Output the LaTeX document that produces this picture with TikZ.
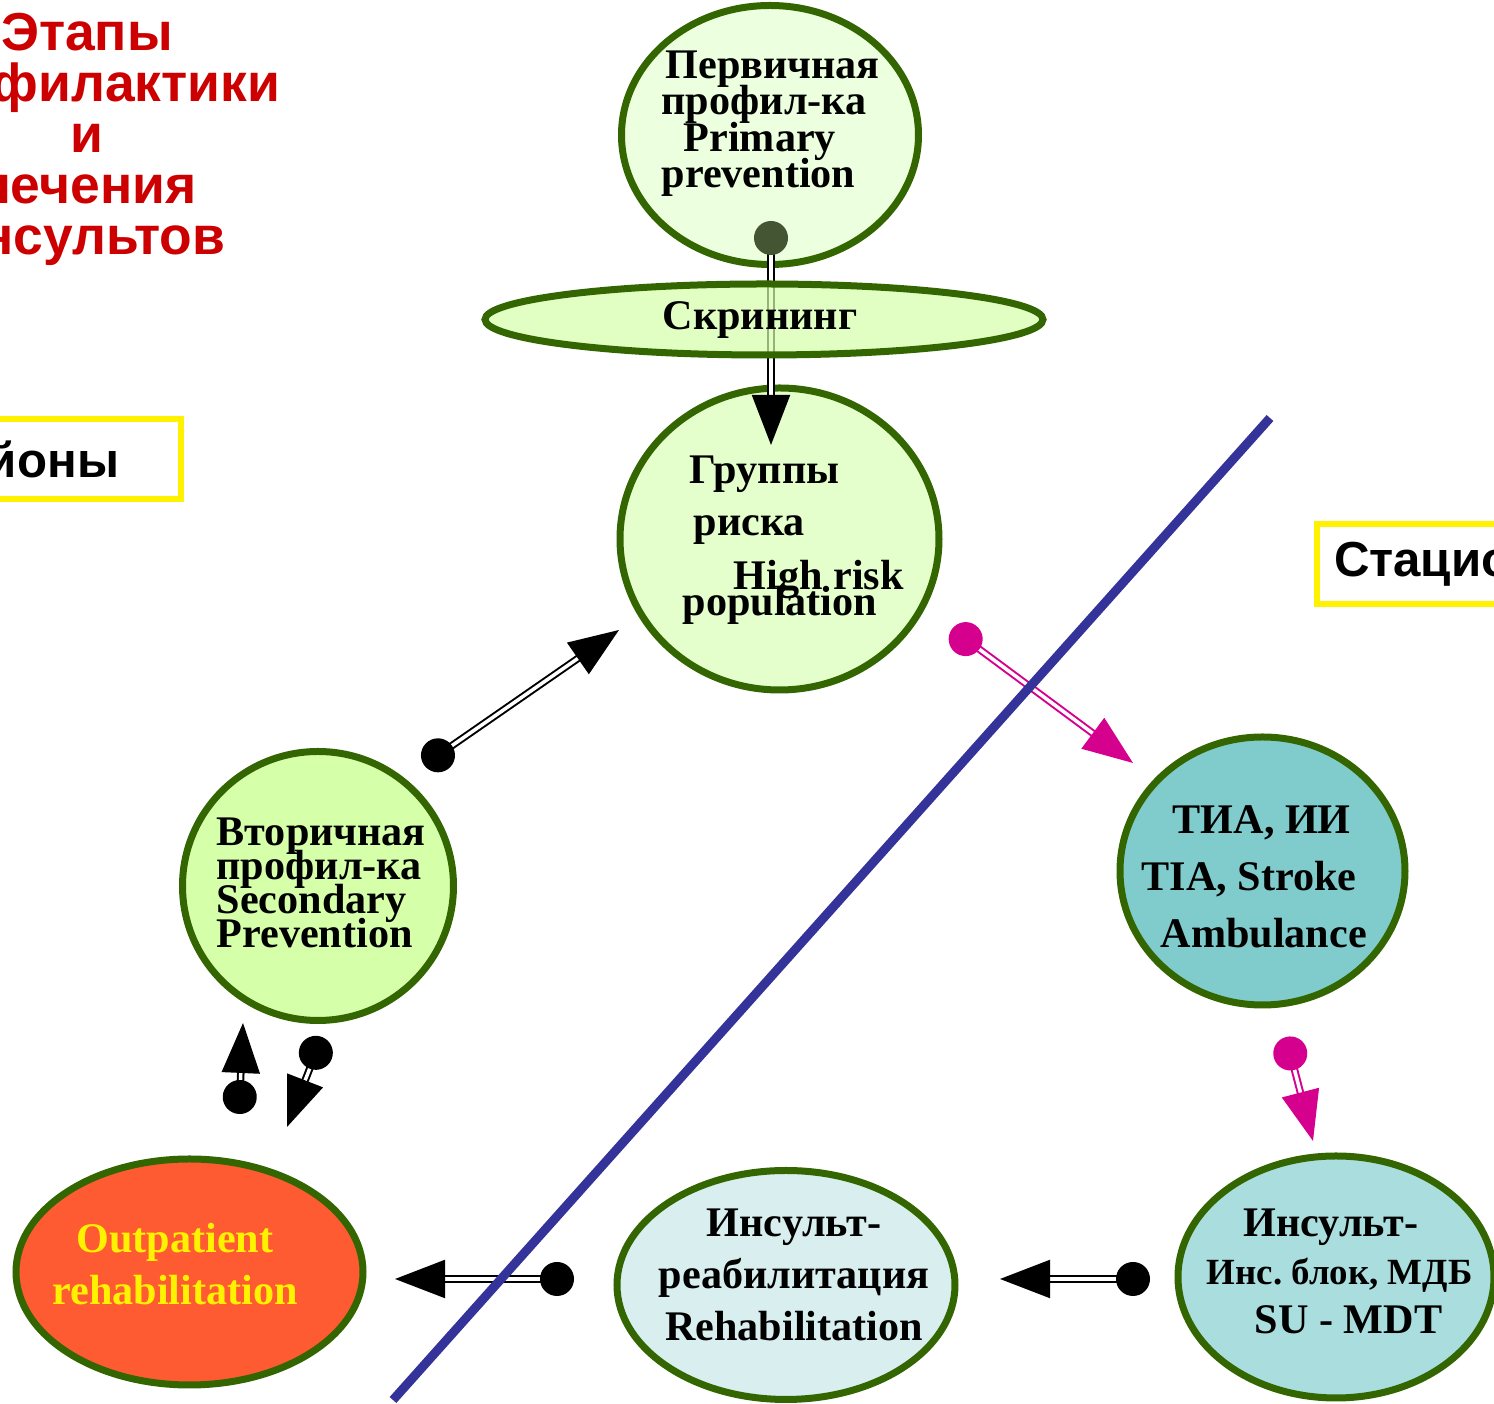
\documentclass[tikz,border=0pt]{standalone}
\usepackage{fontspec}
\setmainfont{Liberation Serif}
\setsansfont{Liberation Sans}
\usepackage{tikz}
\usetikzlibrary{calc,shapes,positioning}
\usetikzlibrary{arrows.meta}

\definecolor{rimgreen}{RGB}{51,102,0}
\definecolor{paleleaf}{RGB}{236,255,222}
\definecolor{riskleaf}{RGB}{228,255,204}
\definecolor{limeleaf}{RGB}{214,255,170}
\definecolor{tealfill}{RGB}{128,204,204}
\definecolor{sufill}{RGB}{170,221,221}
\definecolor{rehabfill}{RGB}{217,238,238}
\definecolor{outpfill}{RGB}{255,91,51}
\definecolor{titlered}{RGB}{204,0,0}
\definecolor{linkpink}{RGB}{214,0,143}
\definecolor{dotolive}{RGB}{68,85,51}
\definecolor{borderblue}{RGB}{51,51,153}
\newcommand{\tightln}{\lineskiplimit-20pt\lineskip0pt\relax}
\frenchspacing

\begin{document}
\begin{tikzpicture}
      \clip (0,0) rectangle (14.94,-14.04);
      \tikzstyle{enode} = [ellipse, draw=rimgreen, line width=0.07cm, inner sep=0pt]
      \tikzstyle{etext} = [font=\bfseries\fontsize{12}{14.8}\selectfont\tightln, align=center, inner sep=0pt]
      \tikzstyle{regbox} = [draw=yellow, line width=0.06cm, minimum height=0.8cm, inner xsep=0.17cm,
                            font=\sffamily\bfseries\fontsize{14}{16}\selectfont]
      \tikzstyle{link} = [line width=0.02cm, double=white, double distance=0.035cm,
                          {Circle[length=0.34cm]}-{Triangle[length=0.5cm,width=0.38cm]}]

      % title and the two areas
      \node[anchor=north, align=center, text=titlered, inner sep=0pt,
            font=\sffamily\bfseries\fontsize{15.2}{14.5}\selectfont\tightln] (title) at (0.87,-0.13)
            {Этапы\\профилактики\\и\\лечения\\инсультов};
      \node[regbox, anchor=east] (regl) at (1.84,-4.59) {Районы\hspace*{0.45cm}};
      \node[regbox, anchor=west] (regr) at (13.14,-5.64) {Стационар};

      % prevention
      \node[enode, fill=paleleaf, minimum width=2.97cm, minimum height=2.59cm] (prim) at (7.70,-1.35) {};
      \node[etext, anchor=north west, align=left, font=\bfseries\fontsize{12}{10.4}\selectfont\tightln] (primt) at (6.61,-0.50)
            {\hspace*{0.04cm}Первичная\\профил-ка\\\hspace*{0.22cm}Primary\\prevention};

      \node[enode, fill=riskleaf, minimum width=3.19cm, minimum height=3.02cm] (risk) at (7.795,-5.39) {};
      \node[etext, anchor=north west, align=left, font=\bfseries\fontsize{12}{7.4}\selectfont\tightln] (riskt) at (6.82,-4.55)
            {\hspace*{0.07cm}Группы\\[0.26cm]\hspace*{0.11cm}риска\\[0.28cm]\hspace*{0.51cm}High risk\\population};

      \draw[link, {Circle[length=0.34cm,color=dotolive]}-{Triangle[length=0.5cm,width=0.38cm]}]
            (7.71,-2.21) coordinate (p1) -- (7.71,-4.45) coordinate (p2);

      \node[enode, fill=limeleaf, fill opacity=0.7, text opacity=1, minimum width=5.58cm, minimum height=0.71cm] (scr) at (7.64,-3.195) {};
      \node[etext, anchor=base] (scrt) at (7.60,-3.30) {Скрининг};

      \node[enode, fill=limeleaf, minimum width=2.71cm, minimum height=2.69cm] (sec) at (3.18,-8.86) {};
      \node[etext, anchor=north west, align=left, font=\bfseries\fontsize{12}{9.7}\selectfont\tightln] (sect) at (2.16,-8.17)
            {Вторичная\\профил-ка\\Secondary\\Prevention};

      \node[enode, fill=outpfill, minimum width=3.47cm, minimum height=2.26cm] (outp) at (1.895,-12.72) {};
      \node[etext, anchor=north, text=yellow] (outpt) at (1.75,-12.23) {Outpatient\\rehabilitation};

      % hospital
      \node[enode, fill=tealfill, minimum width=2.85cm, minimum height=2.68cm] (tia) at (12.625,-8.71) {};
      \node[etext, anchor=north west, align=left, font=\bfseries\fontsize{12}{16.2}\selectfont\tightln] (tiat) at (11.41,-8.05)
            {\hspace*{0.31cm}ТИА, ИИ\\TIA, Stroke\\\hspace*{0.19cm}Ambulance};

      \node[enode, fill=sufill, minimum width=3.16cm, minimum height=2.42cm] (su) at (13.36,-12.77) {};
      \node[etext, anchor=north west, align=left, font=\bfseries\fontsize{12}{13.8}\selectfont\tightln] (sut) at (12.06,-12.08)
            {\hspace*{0.37cm}Инсульт-\\{\fontsize{10.5}{12}\selectfont Инс. блок, МДБ}\\\hspace*{0.48cm}SU - MDT};

      \node[enode, fill=rehabfill, minimum width=3.38cm, minimum height=2.29cm] (rehab) at (7.86,-12.85) {};
      \node[etext, anchor=north] (rehabt) at (7.94,-12.08)
            {Инсульт-\\реабилитация\\Rehabilitation};

      \coordinate (s1) at (4.24,-7.65);   \coordinate (s2) at (6.19,-6.30);
      \coordinate (u1) at (2.39,-11.14);  \coordinate (u2) at (2.43,-10.23);
      \coordinate (d1) at (3.22,-10.37);  \coordinate (d2) at (2.87,-11.27);
      \coordinate (k1) at (9.52,-6.29);   \coordinate (k2) at (11.33,-7.63);
      \coordinate (m1) at (12.86,-10.37); \coordinate (m2) at (13.13,-11.41);
      \coordinate (r1) at (11.50,-12.79); \coordinate (r2) at (10.00,-12.79);
      \coordinate (o1) at (5.74,-12.79);  \coordinate (o2) at (3.95,-12.79);

      \foreach \a/\b in {s1/s2, u1/u2, d1/d2, r1/r2, o1/o2}
        \draw[link] (\a) -- (\b);
      \foreach \a/\b in {k1/k2, m1/m2}
        \draw[link, linkpink] (\a) -- (\b);

      \coordinate (b1) at (12.70,-4.18);
      \coordinate (b2) at (3.93,-14.00);
      \draw[borderblue, line width=0.09cm] (b1) -- (b2);
\end{tikzpicture}
\end{document}
